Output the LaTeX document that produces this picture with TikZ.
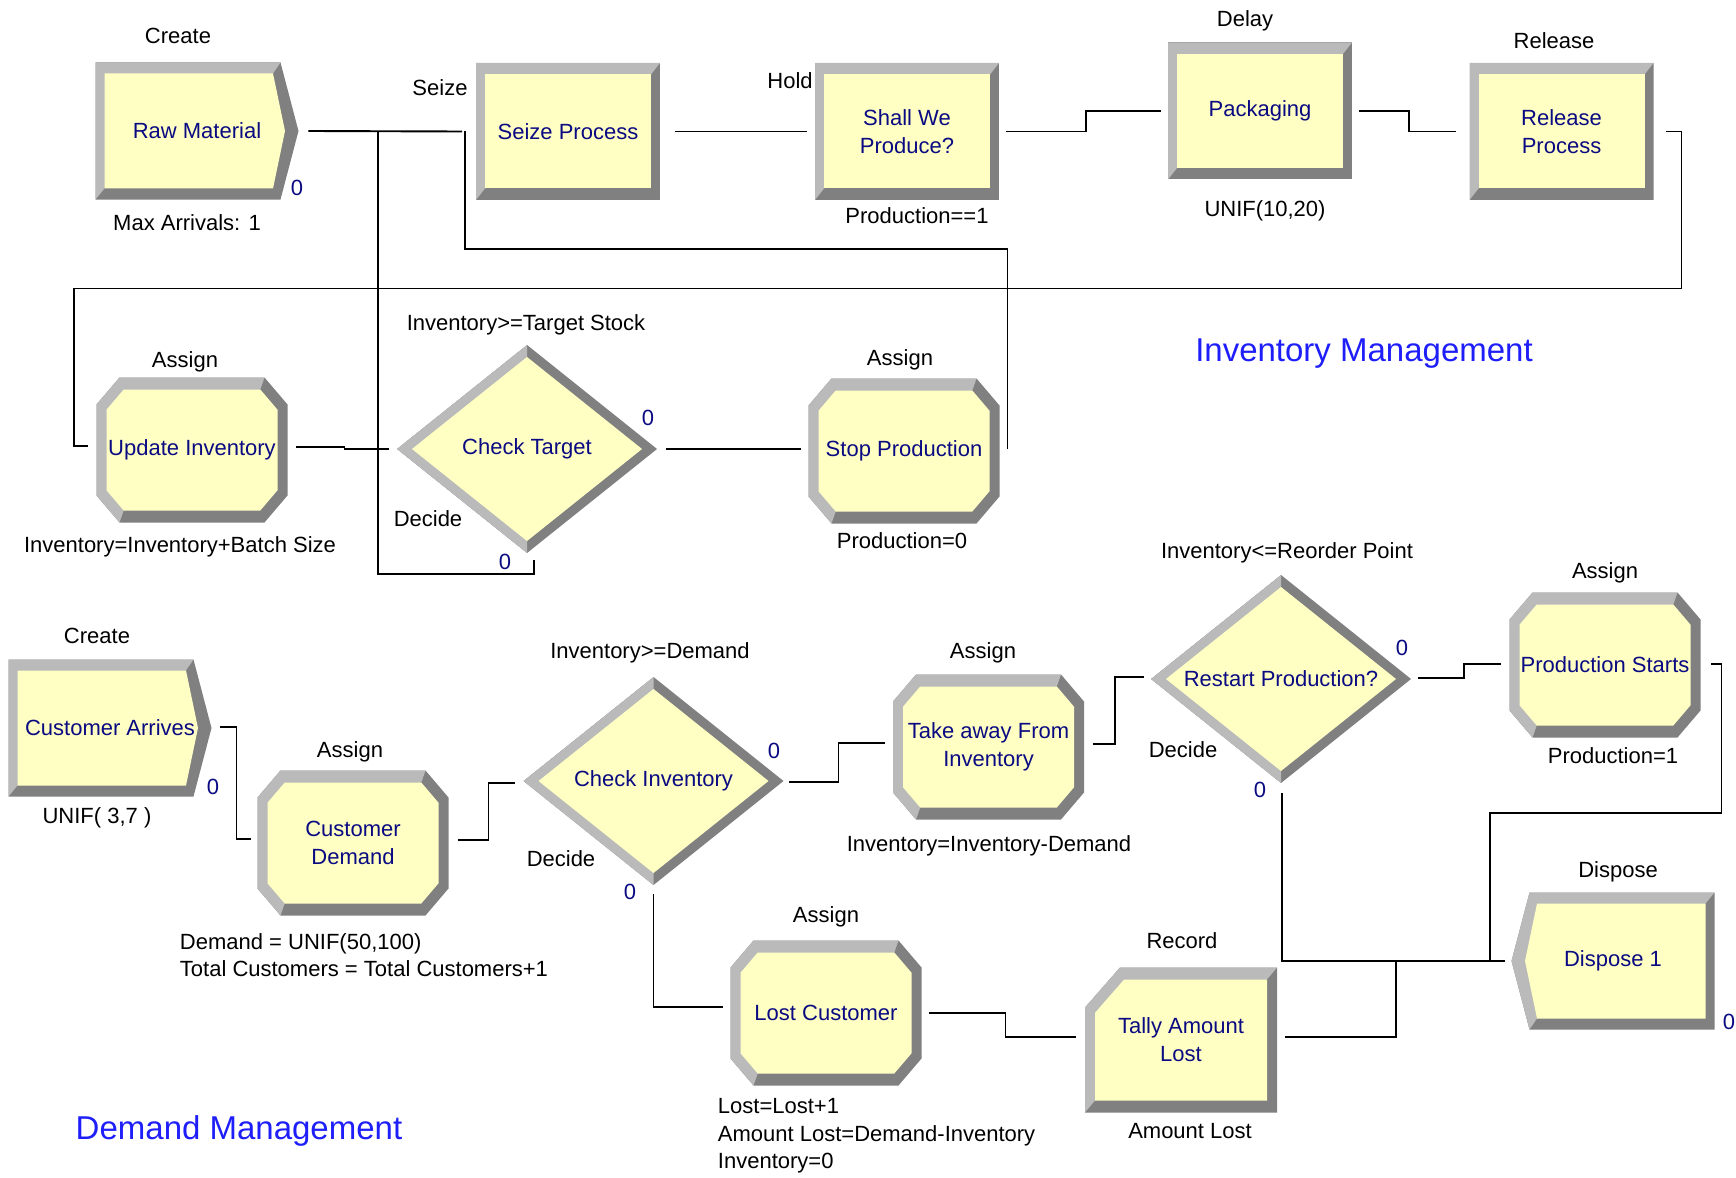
\documentclass[tikz,border=0pt]{standalone}
\usepackage{fontspec}
\setmainfont{Liberation Sans}
\usetikzlibrary{positioning,calc}
\definecolor{modfill}{RGB}{255,255,196}
\definecolor{bevlight}{RGB}{186,186,186}
\definecolor{bevdark}{RGB}{128,128,128}
\definecolor{modtext}{RGB}{10,10,130}
\definecolor{titleblue}{RGB}{30,30,250}

\begin{document}
\begin{tikzpicture}[x=1pt,y=-1pt,line width=1.9pt,
    pics/blockshape/.style={code={
      \fill[bevdark] (-92pt,-68.5pt) rectangle (92pt,68.5pt);
      \fill[bevlight] (-92pt,-68.5pt) -- (-92pt,68.5pt) -- (92pt,68.5pt) -- (83pt,57pt) -- (-83pt,-57pt) -- cycle;
      \fill[modfill] (-83pt,-57pt) rectangle (83pt,57pt);}},
    pics/assignshape/.style={code={
      \fill[bevdark] (-72.5pt,72.5pt) -- (72.5pt,72.5pt) -- (95.5pt,45.5pt) -- (95.5pt,-45.5pt) -- (72.5pt,-72.5pt) -- (-72.5pt,-72.5pt) -- (-95.5pt,-45.5pt) -- (-95.5pt,45.5pt) -- cycle;
      \fill[bevlight] (-72.5pt,-72.5pt) -- (-95.5pt,-45.5pt) -- (-95.5pt,45.5pt) -- (-72.5pt,72.5pt) -- (72.5pt,72.5pt) -- (68.3pt,60.5pt) -- (-68.3pt,-60.5pt) -- cycle;
      \fill[modfill] (-68.3pt,60.5pt) -- (68.3pt,60.5pt) -- (85.5pt,40.3pt) -- (85.5pt,-40.3pt) -- (68.3pt,-60.5pt) -- (-68.3pt,-60.5pt) -- (-85.5pt,-40.3pt) -- (-85.5pt,40.3pt) -- cycle;}},
    pics/decideshape/.style={code={
      \fill[bevdark] (0pt,104pt) -- (130pt,0pt) -- (0pt,-104pt) -- (-130pt,0pt) -- cycle;
      \fill[bevlight] (0pt,104pt) -- (-130pt,0pt) -- (0pt,-104pt) -- cycle;
      \fill[modfill] (0pt,92pt) -- (115pt,0pt) -- (0pt,-92pt) -- (-115pt,0pt) -- cycle;}},
    pics/createshape/.style={code={
      \fill[bevdark] (-101.5pt,68.5pt) -- (83.5pt,68.5pt) -- (101.5pt,0pt) -- (83.5pt,-68.5pt) -- (-101.5pt,-68.5pt) -- cycle;
      \fill[bevlight] (-101.5pt,-68.5pt) -- (-101.5pt,68.5pt) -- (83.5pt,68.5pt) -- (76pt,57.5pt) -- (-92.5pt,-57.5pt) -- cycle;
      \fill[modfill] (-92.5pt,57.5pt) -- (76pt,57.5pt) -- (88pt,0pt) -- (76pt,-57.5pt) -- (-92.5pt,-57.5pt) -- cycle;}},
    pics/disposeshape/.style={code={
      \fill[bevdark] (-83.5pt,68.5pt) -- (101.5pt,68.5pt) -- (101.5pt,-68.5pt) -- (-83.5pt,-68.5pt) -- (-101.5pt,0pt) -- cycle;
      \fill[bevlight] (-83.5pt,-68.5pt) -- (-101.5pt,0pt) -- (-83.5pt,68.5pt) -- (101.5pt,68.5pt) -- (92.5pt,57.5pt) -- (-76pt,-57.5pt) -- cycle;
      \fill[modfill] (-76pt,57.5pt) -- (92.5pt,57.5pt) -- (92.5pt,-57.5pt) -- (-76pt,-57.5pt) -- (-88pt,0pt) -- cycle;}},
    pics/recordshape/.style={code={
      \fill[bevdark] (-61pt,72.5pt) -- (96pt,72.5pt) -- (96pt,-72.5pt) -- (-96pt,-72.5pt) -- (-96pt,32.5pt) -- cycle;
      \fill[bevlight] (-96pt,-72.5pt) -- (-96pt,32.5pt) -- (-61pt,72.5pt) -- (96pt,72.5pt) -- (86pt,60.5pt) -- (-86pt,-60.5pt) -- cycle;
      \fill[modfill] (-56.9pt,60.5pt) -- (86pt,60.5pt) -- (86pt,-60.5pt) -- (-86pt,-60.5pt) -- (-86pt,27.2pt) -- cycle;}},
    mod/.style={inner sep=0pt, align=center, text=modtext, font=\fontsize{22}{28}\selectfont},
    block/.style={mod, minimum width=184pt, minimum height=137pt,
      path picture={\pic at (path picture bounding box.center) {blockshape};}},
    assign/.style={mod, minimum width=191pt, minimum height=145pt,
      path picture={\pic at (path picture bounding box.center) {assignshape};}},
    decide/.style={mod, minimum width=260pt, minimum height=208pt,
      path picture={\pic at (path picture bounding box.center) {decideshape};}},
    create/.style={mod, minimum width=203pt, minimum height=137pt,
      path picture={\pic at (path picture bounding box.center) {createshape};}},
    dispose/.style={mod, minimum width=203pt, minimum height=137pt,
      path picture={\pic at (path picture bounding box.center) {disposeshape};}},
    record/.style={mod, minimum width=192pt, minimum height=145pt,
      path picture={\pic at (path picture bounding box.center) {recordshape};}},
    tag/.style={inner sep=0pt, font=\fontsize{22}{28}\selectfont, text height=16pt, text depth=5pt},
    note/.style={inner sep=0pt, align=left, anchor=west, font=\fontsize{22}{27.5}\selectfont},
    cnt/.style={inner sep=0pt, text=modtext, font=\fontsize{22}{24}\selectfont},
    title/.style={inner sep=0pt, text=titleblue, font=\fontsize{33}{40}\selectfont}]

\useasboundingbox (0,0) rectangle (1736,1177);

% inventory management
\node[create] (raw) at (197,131) {Raw Material};
\node[block] (seize) at (568,131.5) {Seize Process};
\node[block] (hold) at (907,131.5) {Shall We\\Produce?};
\node[block] (pack) at (1260,111) {Packaging};
\node[block] (rel) at (1561.5,131.5) {Release\\Process};
\node[assign] (upd) at (192,450) {Update Inventory};
\node[decide] (chk) at (527,449) {Check Target};
\node[assign] (stop) at (904,451) {Stop Production};

\node[tag] (raw-type) at (178,38) {Create};
\node[tag] (raw-info) at (187,225) {Max Arrivals: 1};
\node[cnt] (raw-cnt) at (297,188) {0};
\node[tag] (seize-type) at (440,90) {Seize};
\node[tag] (hold-type) at (790,83) {Hold};
\node[tag] (hold-info) at (917,218) {Production==1};
\node[tag] (pack-type) at (1245,21) {Delay};
\node[tag] (pack-info) at (1265,211) {UNIF(10,20)};
\node[tag] (rel-type) at (1554,43) {Release};
\node[tag] (upd-type) at (185,362) {Assign};
\node[tag] (upd-info) at (180,547) {Inventory=Inventory+Batch Size};
\node[tag] (chk-info) at (526,325) {Inventory>=Target Stock};
\node[tag] (chk-type) at (428,521) {Decide};
\node[cnt] (chk-true) at (648,418) {0};
\node[cnt] (chk-false) at (505,562) {0};
\node[tag] (stop-type) at (900,360) {Assign};
\node[tag] (stop-info) at (902,543) {Production=0};
\node[title] (invtitle) at (1364,354) {Inventory Management};

\draw ($(raw.east)+(9,0)$) -- ($(seize.west)+(-13,0)$);
\draw ($(seize.east)+(14,0)$) -- ($(hold.west)+(-7,0)$);
\draw ($(hold.east)+(6,0)$) -- ++(80,0) |- ($(pack.west)+(-6,0)$);
\draw ($(pack.east)+(6,0)$) -- ++(50,0) |- ($(rel.west)+(-13,0)$);
\draw ($(rel.east)+(12,0)$) -- ++(15,0) -- ++(0,157) -| ($(upd.west)+(-22,-4)$) -- ($(upd.west)+(-8,-4)$);
\draw ($(upd.east)+(8,-3)$) -- ++(48,0) |- ($(chk.west)+(-7,0)$);
\draw ($(chk.east)+(8,0)$) -- ++(66,0) |- ($(stop.west)+(-7,-2)$);
\draw ($(stop.east)+(7,-2)$) -- ++(0,-200) -| ($(seize.west)+(-10,0)$);
\draw ($(chk.south)+(7,6)$) -- ++(0,14) -| ($(seize.west)+(-97,0)$);

% demand management
\node[create] (cust) at (110,728) {Customer Arrives};
\node[assign] (cdem) at (353,843) {Customer\\Demand};
\node[decide] (chkinv) at (653.5,781) {Check Inventory};
\node[assign] (take) at (988.5,747) {Take away From\\Inventory};
\node[decide] (restart) at (1281,679) {Restart Production?};
\node[assign] (prod) at (1605,665) {Production Starts};
\node[dispose] (dispose) at (1613,961) {Dispose 1};
\node[assign] (lost) at (826,1013) {Lost Customer};
\node[record] (rec) at (1181,1040) {Tally Amount\\Lost};

\node[tag] (cust-type) at (97,638) {Create};
\node[cnt] (cust-cnt) at (213,787) {0};
\node[tag] (cust-info) at (97,818) {UNIF( 3,7 )};
\node[tag] (cdem-type) at (350,752) {Assign};
\node[note] (cdem-info) at (179,955) {Demand = UNIF(50,100)\\Total Customers = Total Customers+1};
\node[tag] (chkinv-info) at (650,653) {Inventory>=Demand};
\node[tag] (chkinv-type) at (561,861) {Decide};
\node[cnt] (chkinv-true) at (774,751) {0};
\node[cnt] (chkinv-false) at (630,892) {0};
\node[tag] (take-type) at (983,653) {Assign};
\node[tag] (take-info) at (989,846) {Inventory=Inventory-Demand};
\node[tag] (restart-info) at (1287,553) {Inventory<=Reorder Point};
\node[tag] (restart-type) at (1183,752) {Decide};
\node[cnt] (restart-true) at (1402,648) {0};
\node[cnt] (restart-false) at (1260,790) {0};
\node[tag] (prod-type) at (1605,573) {Assign};
\node[tag] (prod-info) at (1613,758) {Production=1};
\node[tag] (dispose-type) at (1618,872) {Dispose};
\node[cnt] (dispose-cnt) at (1729,1022) {0};
\node[tag] (lost-type) at (826,917) {Assign};
\node[note] (lost-info) at (717,1136) {Lost=Lost+1\\Amount Lost=Demand-Inventory\\Inventory=0};
\node[tag] (rec-type) at (1182,943) {Record};
\node[tag] (rec-info) at (1190,1133) {Amount Lost};
\node[title] (demtitle) at (239,1131) {Demand Management};

\draw ($(cust.east)+(8,-1)$) -- ++(16,0) |- ($(cdem.west)+(-6,-4)$);
\draw ($(cdem.east)+(9,-3)$) -- ++(30,0) |- ($(chkinv.west)+(-8,2)$);
\draw ($(chkinv.east)+(5,1)$) -- ++(49,0) |- ($(take.west)+(-7,-4)$);
\draw ($(take.east)+(8,-3)$) -- ++(22,0) |- ($(restart.west)+(-6,-2)$);
\draw ($(restart.east)+(6,-1)$) -- ++(46,0) |- ($(prod.west)+(-8,-1)$);
\draw ($(prod.east)+(10,-1)$) -- ++(10,0) -- ++(0,149) -| ($(dispose.west)+(-21,0)$) -- ($(dispose.west)+(-6,0)$);
\draw ($(restart.south)+(1,9)$) |- ($(dispose.west)+(-6,0)$);
\draw ($(chkinv.south)+(0,8)$) |- ($(lost.west)+(-7,-6)$);
\draw ($(lost.east)+(7,0)$) -- ++(76,0) |- ($(rec.west)+(-8,-3)$);
\draw ($(rec.east)+(7,-3)$) -- ++(111,0) |- ($(dispose.west)+(-6,0)$);
\end{tikzpicture}
\end{document}
